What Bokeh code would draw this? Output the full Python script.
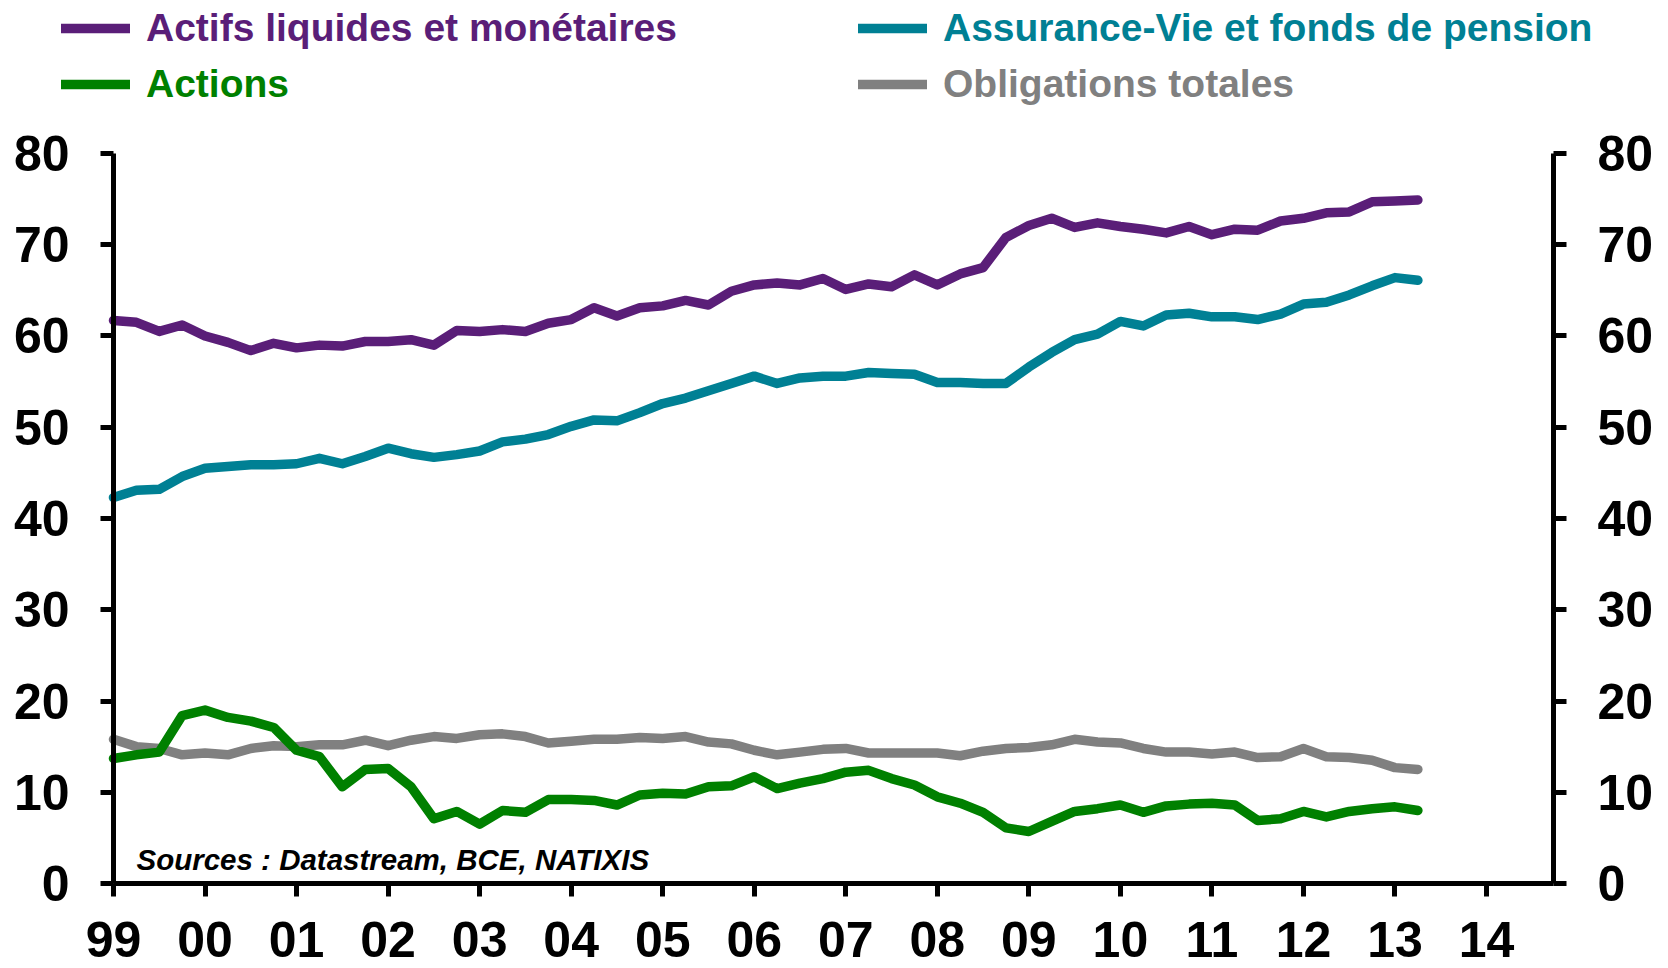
from bokeh.plotting import figure
from bokeh.models import LinearAxis, FixedTicker, Range1d, Legend, LegendItem, Label
from bokeh.embed import file_html
from bokeh.resources import INLINE

# ---------------- data ----------------
quarters = [1999 + q / 4 for q in range(58)]  # 1999Q1 .. 2013Q2

liquides = [61.7, 61.5, 60.5, 61.2, 60.0, 59.3, 58.4, 59.2, 58.7, 59.0,
            58.9, 59.4, 59.4, 59.6, 59.0, 60.6, 60.5, 60.7, 60.5, 61.4,
            61.8, 63.1, 62.2, 63.1, 63.3, 63.9, 63.4, 64.9, 65.6, 65.8,
            65.6, 66.3, 65.1, 65.7, 65.4, 66.7, 65.6, 66.8, 67.5, 70.8,
            72.1, 72.9, 71.9, 72.4, 72.0, 71.7, 71.3, 72.0, 71.1, 71.7,
            71.6, 72.6, 72.9, 73.5, 73.6, 74.7, 74.8, 74.9]

assurance = [42.3, 43.1, 43.2, 44.6, 45.5, 45.7, 45.9, 45.9, 46.0, 46.6,
             46.0, 46.8, 47.7, 47.1, 46.7, 47.0, 47.4, 48.4, 48.7, 49.2,
             50.1, 50.8, 50.7, 51.6, 52.6, 53.2, 54.0, 54.8, 55.6, 54.8,
             55.4, 55.6, 55.6, 56.0, 55.9, 55.8, 54.9, 54.9, 54.8, 54.8,
             56.6, 58.2, 59.6, 60.2, 61.6, 61.1, 62.3, 62.5, 62.1, 62.1,
             61.8, 62.4, 63.5, 63.7, 64.5, 65.5, 66.4, 66.1]

actions = [13.7, 14.1, 14.4, 18.4, 19.0, 18.2, 17.8, 17.1, 14.6, 13.9,
           10.6, 12.5, 12.6, 10.6, 7.1, 7.9, 6.5, 8.0, 7.8, 9.2,
           9.2, 9.1, 8.6, 9.7, 9.9, 9.8, 10.6, 10.7, 11.7, 10.4,
           11.0, 11.5, 12.2, 12.4, 11.5, 10.8, 9.5, 8.8, 7.8, 6.1,
           5.7, 6.8, 7.9, 8.2, 8.6, 7.8, 8.5, 8.7, 8.8, 8.6,
           6.9, 7.1, 7.9, 7.3, 7.9, 8.2, 8.4, 8.0]

obligations = [15.8, 15.0, 14.8, 14.1, 14.3, 14.1, 14.8, 15.1, 15.0, 15.2,
               15.2, 15.7, 15.1, 15.7, 16.1, 15.9, 16.3, 16.4, 16.1, 15.4,
               15.6, 15.8, 15.8, 16.0, 15.9, 16.1, 15.5, 15.3, 14.6, 14.1,
               14.4, 14.7, 14.8, 14.3, 14.3, 14.3, 14.3, 14.0, 14.5, 14.8,
               14.9, 15.2, 15.8, 15.5, 15.4, 14.8, 14.4, 14.4, 14.2, 14.4,
               13.8, 13.9, 14.8, 13.9, 13.8, 13.5, 12.7, 12.5]

series_labels = ["Actifs liquides et monétaires", "Assurance-Vie et fonds de pension",
                 "Actions", "Obligations totales"]

year_ticks = list(range(1999, 2015))
year_labels = ["99", "00", "01", "02", "03", "04", "05", "06", "07", "08",
               "09", "10", "11", "12", "13", "14"]
y_ticks = [0, 10, 20, 30, 40, 50, 60, 70, 80]

source_text = "Sources : Datastream, BCE, NATIXIS"

# ---------------- style ----------------
FONT = "Liberation Sans"
PURPLE = "#5A1E78"
TEAL = "#008094"
GREEN = "#008000"
GREY = "#808080"

W, H = 1668, 968
X_START, X_END = 1997.7655, 2015.988
X_AXIS_END = 2014.732
Y_START, Y_END = -9.315, 96.767

p = figure(width=W, height=H, output_backend="svg", toolbar_location=None,
           x_range=Range1d(X_START, X_END), y_range=Range1d(Y_START, Y_END),
           min_border=0, outline_line_color=None,
           background_fill_color="white", border_fill_color="white")
p.xgrid.grid_line_color = None
p.ygrid.grid_line_color = None


def style_axis(ax):
    ax.axis_line_width = 5
    ax.axis_line_color = "black"
    ax.major_tick_line_width = 5
    ax.major_tick_line_color = "black"
    ax.major_tick_in = 0
    ax.major_tick_out = 13
    ax.minor_tick_line_color = None
    ax.major_label_text_font = FONT
    ax.major_label_text_font_size = "50px"
    ax.major_label_text_font_style = "bold"
    ax.major_label_text_color = "black"


xax = p.xaxis[0]
style_axis(xax)
xax.ticker = FixedTicker(ticks=year_ticks)
xax.major_label_overrides = dict(zip(year_ticks, year_labels))
xax.fixed_location = 0
xax.bounds = (1999, X_AXIS_END)
xax.major_label_standoff = 25

yax = p.yaxis[0]
style_axis(yax)
yax.ticker = FixedTicker(ticks=y_ticks)
yax.fixed_location = 1999
yax.bounds = (0, 80)
yax.major_label_standoff = 31

yax_r = LinearAxis(ticker=FixedTicker(ticks=y_ticks), fixed_location=X_AXIS_END, bounds=(0, 80))
style_axis(yax_r)
yax_r.major_label_standoff = 31
p.add_layout(yax_r, "right")

# ---------------- lines ----------------
common = dict(line_width=9.5, line_cap="round", line_join="round")
r_liq = p.line(quarters, liquides, line_color=PURPLE, **common)
r_ass = p.line(quarters, assurance, line_color=TEAL, **common)
r_obl = p.line(quarters, obligations, line_color=GREY, **common)
r_act = p.line(quarters, actions, line_color=GREEN, **common)


def add_legend(renderer, label, color, x, y):
    leg = Legend(items=[LegendItem(label=label, renderers=[renderer])],
                 location=(x, y), orientation="vertical",
                 glyph_width=69, glyph_height=40, label_height=40,
                 label_standoff=16, padding=0, margin=0, spacing=0,
                 border_line_color=None, background_fill_alpha=0,
                 label_text_font=FONT, label_text_font_size="39px",
                 label_text_font_style="bold", label_text_color=color,
                 label_text_baseline="middle")
    p.add_layout(leg, "center")


add_legend(r_liq, series_labels[0], PURPLE, 61, 918)
add_legend(r_ass, series_labels[1], TEAL, 858, 918)
add_legend(r_act, series_labels[2], GREEN, 61, 862)
add_legend(r_obl, series_labels[3], GREY, 858, 862)

p.add_layout(Label(x=136, y=109, x_units="screen", y_units="screen", text=source_text,
                   text_font=FONT, text_font_size="29.5px", text_font_style="bold italic",
                   text_color="black", text_baseline="alphabetic"))

open("out.html", "w").write(file_html(p, INLINE, "chart"))
